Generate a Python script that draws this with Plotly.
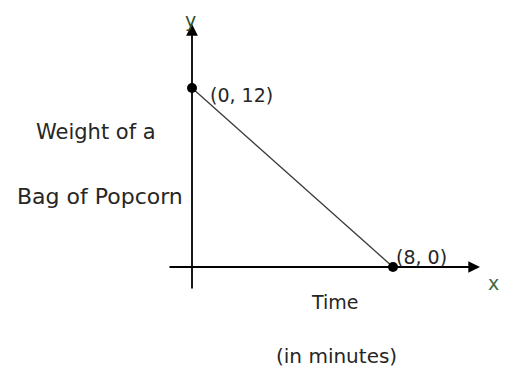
import plotly.graph_objects as go

# data points of the line
pts_x = [0, 8]
pts_y = [12, 0]
pt_labels = ["(0, 12)", "(8, 0)"]

# pixel mapping of the drawing (page pixels; the page body adds an 8px offset)
X0_PX, X_PER = 192, 25.125
Y0_PX, Y_PER = 267, 14.917
OFF = 8


def px2x(p):
    return (p - X0_PX) / X_PER


def px2y(p):
    return (Y0_PX - p) / Y_PER


font = dict(family="DejaVu Sans, sans-serif", size=19, color="#262626")

fig = go.Figure()
fig.add_trace(go.Scatter(x=pts_x, y=pts_y, mode="lines",
                         line=dict(color="#3a3a3a", width=1.3), hoverinfo="skip"))
fig.add_trace(go.Scatter(x=pts_x, y=pts_y, mode="markers",
                         marker=dict(color="black", size=10), hoverinfo="skip"))

ann = []
# axes with arrowheads
ann.append(dict(x=px2x(480), y=0, ax=px2x(168), ay=0, xref="x", yref="y",
                axref="x", ayref="y", showarrow=True, arrowhead=2,
                arrowsize=1.3, arrowwidth=1.8, arrowcolor="black", text=""))
ann.append(dict(x=0, y=px2y(24), ax=0, ay=px2y(290), xref="x", yref="y",
                axref="x", ayref="y", showarrow=True, arrowhead=2,
                arrowsize=1.3, arrowwidth=1.8, arrowcolor="black", text=""))


def label(text, cx, cy, size=19, color="#262626"):
    ann.append(dict(x=px2x(cx), y=px2y(cy), text=text, showarrow=False,
                    xanchor="center", yanchor="middle",
                    font=dict(font, size=size, color=color)))


label(pt_labels[0], 241, 95)
label(pt_labels[1], 421, 257)
label("y", 190, 20, size=19, color="#2f4f2f")
label("x", 493, 283, size=19, color="#3d6b3d")
label("Weight of a", 96, 132, size=21)
label("Bag of Popcorn", 100, 196, size=22)
label("Time", 335, 302)
label("(in minutes)", 336, 356, size=20)

fig.update_layout(
    width=508, height=379,
    margin=dict(l=0, r=0, t=0, b=0),
    paper_bgcolor="white", plot_bgcolor="white",
    showlegend=False,
    annotations=ann,
    xaxis=dict(range=[px2x(OFF), px2x(508 + OFF)], visible=False, fixedrange=True),
    yaxis=dict(range=[px2y(379 + OFF), px2y(OFF)], visible=False, fixedrange=True),
)

fig.write_html("out.html")
